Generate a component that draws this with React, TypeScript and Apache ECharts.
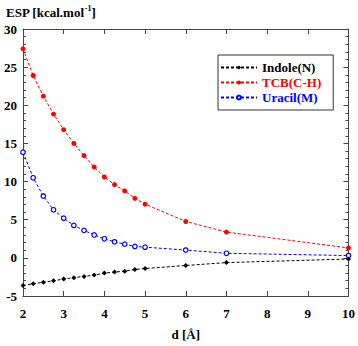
import React, { useEffect, useRef } from "react";
import * as echarts from "echarts";

const distances = [2, 2.25, 2.5, 2.75, 3, 3.25, 3.5, 3.75, 4, 4.25, 4.5, 4.75, 5, 6, 7, 10];
const indole = [-3.63, -3.4, -3.2, -3.0, -2.78, -2.6, -2.43, -2.26, -2.0, -1.87, -1.74, -1.52, -1.4, -1.0, -0.62, -0.15];
const tcb = [27.4, 23.9, 21.2, 18.85, 16.8, 15.0, 13.4, 11.9, 10.6, 9.6, 8.77, 7.8, 7.04, 4.77, 3.38, 1.3];
const uracil = [13.85, 10.5, 8.1, 6.3, 5.2, 4.25, 3.6, 3.0, 2.5, 2.1, 1.8, 1.5, 1.4, 1.02, 0.6, 0.3];

const seriesNames = ["Indole(N)", "TCB(C-H)", "Uracil(M)"];
const seriesColors = ["#000000", "#ff0000", "#0000ff"];

const FONT = "'Liberation Serif', 'Times New Roman', serif";

export default function App() {
  const ref = useRef<HTMLDivElement>(null);
  useEffect(() => {
    const chart = echarts.init(ref.current!, null, { renderer: "svg" });
    const mk = (vals: number[]) => distances.map((d, i) => [d, vals[i]]);
    const datasets = [indole, tcb, uracil];
    const symbols = ["diamond", "circle", "circle"];
    const axisLineStyle = { color: "#444", width: 1 };
    chart.setOption({
      animation: false,
      backgroundColor: "#fff",
      grid: { left: 23, right: 7, top: 29, bottom: 46 },
      legend: {
        orient: "vertical",
        left: 218,
        top: 55,
        width: 127,
        padding: [6, 12, 6, 2],
        itemGap: 2,
        itemWidth: 36,
        itemHeight: 5,
        borderColor: "#333",
        borderWidth: 1,
        backgroundColor: "#fff",
        textStyle: { fontFamily: FONT, fontWeight: "bold", fontSize: 13 },
        data: seriesNames.map((n, i) => ({ name: n, textStyle: { color: seriesColors[i] } })),
      },
      xAxis: [
        {
          type: "value",
          min: 2,
          max: 10,
          interval: 1,
          position: "bottom",
          name: "d [Å]",
          nameLocation: "middle",
          nameGap: 32,
          nameTextStyle: { fontFamily: FONT, fontWeight: "bold", fontSize: 13, color: "#000" },
          axisLine: { onZero: false, lineStyle: axisLineStyle },
          axisTick: { inside: true, length: 5, lineStyle: axisLineStyle },
          axisLabel: { fontFamily: FONT, fontWeight: "bold", fontSize: 13, color: "#000", margin: 11 },
          splitLine: { show: false },
        },
        {
          type: "value",
          min: 2,
          max: 10,
          interval: 1,
          position: "top",
          axisLine: { onZero: false, lineStyle: axisLineStyle },
          axisTick: { inside: true, length: 5, lineStyle: axisLineStyle },
          axisLabel: { show: false },
          splitLine: { show: false },
        },
      ],
      yAxis: [
        {
          type: "value",
          min: -5,
          max: 30,
          interval: 5,
          position: "left",
          axisLine: { show: true, onZero: false, lineStyle: axisLineStyle },
          axisTick: { show: true, inside: true, length: 5, lineStyle: axisLineStyle },
          minorTick: { show: true, splitNumber: 5, length: 3, lineStyle: axisLineStyle },
          axisLabel: { fontFamily: FONT, fontWeight: "bold", fontSize: 13, color: "#000", margin: 6 },
          splitLine: { show: false },
        },
        {
          type: "value",
          min: -5,
          max: 30,
          interval: 5,
          position: "right",
          axisLine: { show: true, onZero: false, lineStyle: axisLineStyle },
          axisTick: { show: true, inside: true, length: 5, lineStyle: axisLineStyle },
          minorTick: { show: true, splitNumber: 5, length: 3, lineStyle: axisLineStyle },
          axisLabel: { show: false },
          splitLine: { show: false },
        },
      ],
      graphic: [
        {
          type: "text",
          left: 6,
          top: 4,
          style: {
            text: "{a|ESP [kcal.mol}{s|-1}{a|]}",
            rich: {
              a: { fontFamily: FONT, fontWeight: "bold", fontSize: 13, fill: "#000" },
              s: { fontFamily: FONT, fontWeight: "bold", fontSize: 8, fill: "#000", verticalAlign: "top", padding: [0, 0, 8, 0] },
            },
          },
        },
      ],
      series: datasets.map((vals, i) => ({
        name: seriesNames[i],
        type: "line",
        data: mk(vals),
        symbol: symbols[i],
        showSymbol: true,
        symbolSize: i === 2 ? 4.5 : 5,
        color: seriesColors[i],
        lineStyle: { color: seriesColors[i], width: 1, type: [3, 2] },
        itemStyle: {
          color: i === 2 ? "#ffffff" : seriesColors[i],
          borderColor: seriesColors[i],
          borderWidth: i === 2 ? 1.2 : 0,
        },
        z: 3 - i,
      })),
    });
    return () => chart.dispose();
  }, []);
  return (
    <div
      ref={ref}
      style={{ position: "absolute", left: 0, top: 0, width: 358, height: 346 }}
    />
  );
}
